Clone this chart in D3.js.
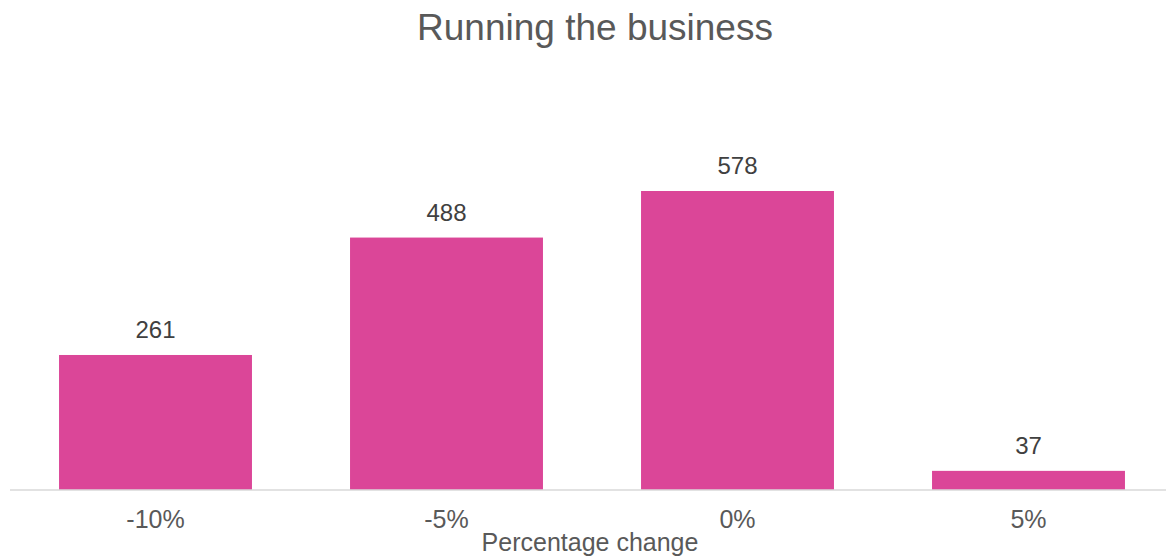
<!DOCTYPE html>
<html><head><meta charset="utf-8">
<script src="https://cdn.jsdelivr.net/npm/d3@7"></script>
<style>body{margin:0;background:#fff;} svg{display:block;font-family:"Liberation Sans",Arial,sans-serif;}</style>
</head><body>
<script>
const categories = ["-10%", "-5%", "0%", "5%"];
const values = [261, 488, 578, 37];
const title = "Running the business";
const xTitle = "Percentage change";

const W = 1166, H = 558;
const svg = d3.select("body").append("svg").attr("width", W).attr("height", H);

const x = d3.scaleBand().domain(categories).range([10, 1174]).paddingInner(0.337).paddingOuter(0.1685);
const y = d3.scaleLinear().domain([0, 578]).range([490, 191]);

svg.append("text").attr("x", 595).attr("y", 40).attr("text-anchor", "middle")
  .attr("font-size", 37).attr("fill", "#595959").text(title);

svg.selectAll("rect.bar").data(values).enter().append("rect")
  .attr("x", (d, i) => x(categories[i])).attr("width", x.bandwidth())
  .attr("y", d => y(d)).attr("height", d => y(0) - y(d)).attr("fill", "#DB4698");

svg.selectAll("text.val").data(values).enter().append("text")
  .attr("x", (d, i) => x(categories[i]) + x.bandwidth() / 2)
  .attr("y", d => y(d) - 17).attr("text-anchor", "middle")
  .attr("font-size", 24).attr("fill", "#404040").text(d => d);

const axis = d3.axisBottom(x).tickSize(0).tickPadding(20);
const g = svg.append("g").attr("transform", "translate(0,490)").call(axis);
g.select(".domain").attr("stroke", "#d9d9d9").attr("stroke-width", 1.5).attr("d", "M10,0H1166");
g.selectAll("text").attr("font-size", 25).attr("fill", "#595959").attr("font-family", "Liberation Sans, Arial, sans-serif");

svg.append("text").attr("x", 590).attr("y", 551).attr("text-anchor", "middle")
  .attr("font-size", 25).attr("fill", "#595959").text(xTitle);
</script>
</body></html>
